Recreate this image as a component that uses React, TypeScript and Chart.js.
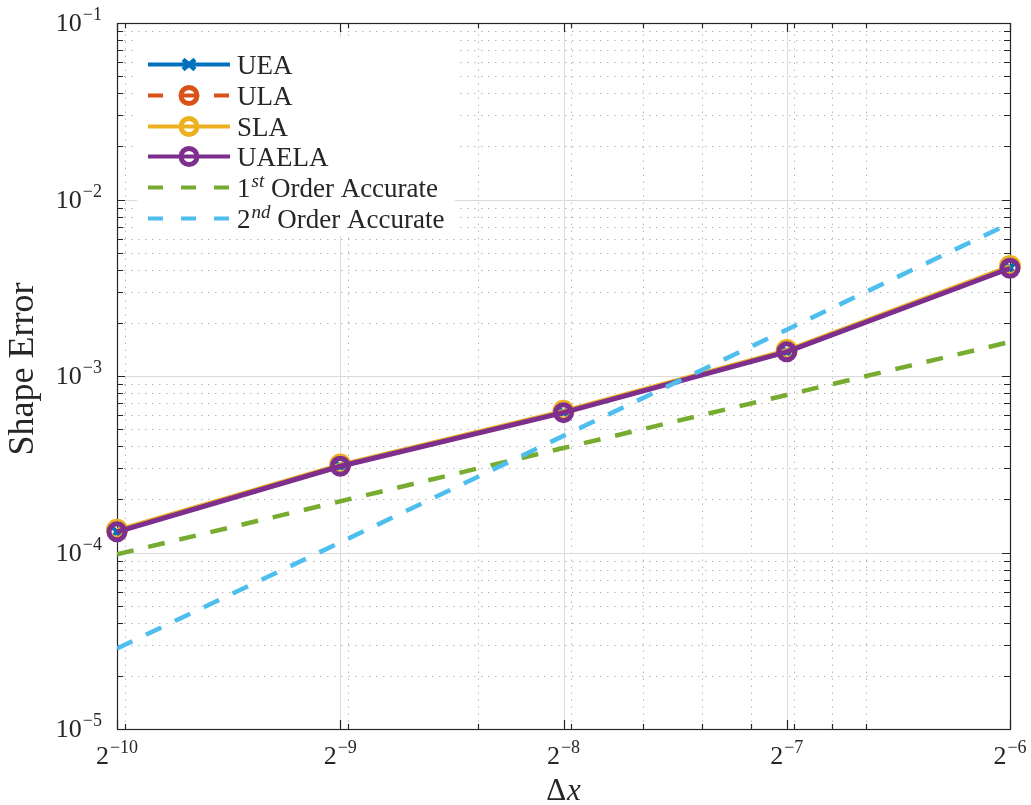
import React, { useEffect, useRef } from "react";
import { Chart, registerables } from "chart.js";

Chart.register(...registerables);

// ---- data ----
const dxValues = [0.0009765625, 0.001953125, 0.00390625, 0.0078125, 0.015625];
const ueaErr = [1.31e-4, 3.08e-4, 6.22e-4, 1.372e-3, 4.09e-3];
const ulaErr = [1.315e-4, 3.09e-4, 6.24e-4, 1.378e-3, 4.11e-3];
const slaErr = [1.345e-4, 3.15e-4, 6.36e-4, 1.405e-3, 4.2e-3];
const uaelaErr = [1.31e-4, 3.08e-4, 6.2e-4, 1.37e-3, 4.08e-3];
const firstOrderRef = [9.77e-5, 1.95e-4, 3.91e-4, 7.81e-4, 1.56e-3];
const secondOrderRef = [2.86e-5, 1.14e-4, 4.58e-4, 1.83e-3, 7.32e-3];

const xTickExps = [-10, -9, -8, -7, -6];
const yTickExps = [-5, -4, -3, -2, -1];
const xMinorTicks = [0.001, 0.002, 0.003, 0.004, 0.005, 0.006, 0.007, 0.008, 0.009, 0.01];
const yMinorMultipliers = [2, 3, 4, 5, 6, 7, 8, 9];
const yMinorDecades = [-5, -4, -3, -2];

const COLORS = {
  uea: "#0072BD",
  ula: "#D95319",
  sla: "#EDB120",
  uaela: "#7E2F8E",
  first: "#77AC30",
  second: "#4DBEEE",
};

const TEXT = "#262626";
const SERIF = '"Liberation Serif", "Times New Roman", serif';

type LegendItem = {
  label: string;
  sup?: string;
  color: string;
  dash: number[];
  marker: "none" | "circle" | "cross";
};

const legendItems: LegendItem[] = [
  { label: "UEA", color: COLORS.uea, dash: [], marker: "cross" },
  { label: "ULA", color: COLORS.ula, dash: [15, 18], marker: "circle" },
  { label: "SLA", color: COLORS.sla, dash: [], marker: "circle" },
  { label: "UAELA", color: COLORS.uaela, dash: [], marker: "circle" },
  { label: " Order Accurate", sup: "st", color: COLORS.first, dash: [15, 18], marker: "none" },
  { label: " Order Accurate", sup: "nd", color: COLORS.second, dash: [15, 18], marker: "none" },
];
const legendPrefix = ["", "", "", "", "1", "2"];

const toPts = (ys: number[]) => dxValues.map((x, i) => ({ x, y: ys[i] }));

function drawSupText(
  ctx: CanvasRenderingContext2D,
  base: string,
  sup: string,
  x: number,
  y: number,
  baseFont: string,
  supFont: string,
  raise: number,
  align: "left" | "right" | "center"
) {
  ctx.font = baseFont;
  const wb = ctx.measureText(base).width;
  ctx.font = supFont;
  const ws = ctx.measureText(sup).width;
  const total = wb + ws + 1;
  let sx = x;
  if (align === "right") sx = x - total;
  else if (align === "center") sx = x - total / 2;
  ctx.textAlign = "left";
  ctx.textBaseline = "alphabetic";
  ctx.font = baseFont;
  ctx.fillText(base, sx, y);
  ctx.font = supFont;
  ctx.fillText(sup, sx + wb + 1, y - raise);
}

const customPlugin = {
  id: "matlabStyle",
  beforeDatasetsDraw(chart: any) {
    const ctx: CanvasRenderingContext2D = chart.ctx;
    const xs = chart.scales.x;
    const ys = chart.scales.y;
    const { left, right, top, bottom } = chart.chartArea;
    ctx.save();
    ctx.lineWidth = 1;
    // minor grid (dotted)
    ctx.strokeStyle = "#b8b8b8";
    ctx.setLineDash([1.5, 5.5]);
    for (const d of yMinorDecades) {
      for (const m of yMinorMultipliers) {
        const py = Math.round(ys.getPixelForValue(m * Math.pow(10, d))) + 0.5;
        ctx.beginPath();
        ctx.moveTo(left, py);
        ctx.lineTo(right, py);
        ctx.stroke();
      }
    }
    for (const v of xMinorTicks) {
      const px = Math.round(xs.getPixelForValue(v)) + 0.5;
      ctx.beginPath();
      ctx.moveTo(px, bottom);
      ctx.lineTo(px, top);
      ctx.stroke();
    }
    // major grid
    ctx.setLineDash([]);
    ctx.strokeStyle = "#dadada";
    for (const e of yTickExps) {
      const py = Math.round(ys.getPixelForValue(Math.pow(10, e))) + 0.5;
      ctx.beginPath();
      ctx.moveTo(left, py);
      ctx.lineTo(right, py);
      ctx.stroke();
    }
    for (const e of xTickExps) {
      const px = Math.round(xs.getPixelForValue(Math.pow(2, e))) + 0.5;
      ctx.beginPath();
      ctx.moveTo(px, bottom);
      ctx.lineTo(px, top);
      ctx.stroke();
    }
    // frame
    ctx.strokeStyle = TEXT;
    ctx.lineWidth = 1.2;
    ctx.strokeRect(Math.round(left) + 0.5, Math.round(top) + 0.5, Math.round(right - left), Math.round(bottom - top));
    // ticks
    const tickX = (v: number, len: number) => {
      const px = Math.round(xs.getPixelForValue(v)) + 0.5;
      ctx.beginPath();
      ctx.moveTo(px, bottom);
      ctx.lineTo(px, bottom - len);
      ctx.moveTo(px, top);
      ctx.lineTo(px, top + len);
      ctx.stroke();
    };
    const tickY = (v: number, len: number) => {
      const py = Math.round(ys.getPixelForValue(v)) + 0.5;
      ctx.beginPath();
      ctx.moveTo(left, py);
      ctx.lineTo(left + len, py);
      ctx.moveTo(right, py);
      ctx.lineTo(right - len, py);
      ctx.stroke();
    };
    for (const v of xMinorTicks) tickX(v, 5);
    for (const e of xTickExps) tickX(Math.pow(2, e), 9);
    for (const d of yMinorDecades) for (const m of yMinorMultipliers) tickY(m * Math.pow(10, d), 6);
    for (const e of yTickExps) tickY(Math.pow(10, e), 8);

    // tick labels
    ctx.fillStyle = TEXT;
    const baseFont = `26px ${SERIF}`;
    const supFont = `18px ${SERIF}`;
    for (const e of yTickExps) {
      const py = ys.getPixelForValue(Math.pow(10, e));
      drawSupText(ctx, "10", "\u2212" + Math.abs(e), left - 15, py + 8, baseFont, supFont, 11, "right");
    }
    for (const e of xTickExps) {
      const px = xs.getPixelForValue(Math.pow(2, e));
      drawSupText(ctx, "2", "\u2212" + Math.abs(e), px, bottom + 35, baseFont, supFont, 11, "center");
    }
    // axis titles
    ctx.textBaseline = "alphabetic";
    const cx = (left + right) / 2;
    ctx.font = `31px ${SERIF}`;
    const wD = ctx.measureText("\u0394").width;
    ctx.font = `italic 31px ${SERIF}`;
    const wX = ctx.measureText("x").width;
    const sx = cx - (wD + wX + 1) / 2;
    ctx.textAlign = "left";
    ctx.font = `31px ${SERIF}`;
    ctx.fillText("\u0394", sx, 800);
    ctx.font = `italic 31px ${SERIF}`;
    ctx.fillText("x", sx + wD + 1, 800);

    ctx.save();
    ctx.translate(33, 369);
    ctx.rotate(-Math.PI / 2);
    ctx.font = `36px ${SERIF}`;
    ctx.textAlign = "center";
    ctx.fillText("Shape Error", 0, 0);
    ctx.restore();

    ctx.restore();
  },
  afterDraw(chart: any) {
    const ctx: CanvasRenderingContext2D = chart.ctx;
    ctx.save();
    // legend box
    ctx.fillStyle = "#ffffff";
    ctx.fillRect(137, 37, 318, 199);
    const rowY0 = 64;
    const rowStep = 30.8;
    const lx0 = 148;
    const lx1 = 230;
    const mx = 189;
    legendItems.forEach((it, i) => {
      const y = Math.round(rowY0 + i * rowStep) + 0.5;
      ctx.strokeStyle = it.color;
      ctx.lineWidth = 4;
      ctx.lineCap = "butt";
      ctx.setLineDash(it.dash);
      ctx.beginPath();
      ctx.moveTo(lx0, y);
      ctx.lineTo(lx1, y);
      ctx.stroke();
      ctx.setLineDash([]);
      if (it.marker === "circle") {
        ctx.lineWidth = 5;
        ctx.beginPath();
        ctx.arc(mx, y, 8, 0, Math.PI * 2);
        ctx.stroke();
        ctx.lineWidth = 2.5;
        ctx.beginPath();
        ctx.moveTo(mx - 5, y);
        ctx.lineTo(mx + 5, y);
        ctx.stroke();
      } else if (it.marker === "cross") {
        ctx.lineWidth = 4.5;
        ctx.beginPath();
        ctx.moveTo(mx - 6, y - 5);
        ctx.lineTo(mx + 6, y + 5);
        ctx.moveTo(mx - 6, y + 5);
        ctx.lineTo(mx + 6, y - 5);
        ctx.stroke();
      }
      ctx.fillStyle = TEXT;
      ctx.textAlign = "left";
      ctx.textBaseline = "alphabetic";
      const baseline = y + 9;
      if (it.sup) {
        ctx.font = `27px ${SERIF}`;
        const pre = legendPrefix[i];
        ctx.fillText(pre, 237, baseline);
        const wp = ctx.measureText(pre).width;
        ctx.font = `italic 19px ${SERIF}`;
        ctx.fillText(it.sup, 237 + wp + 1, baseline - 10);
        const wsup = ctx.measureText(it.sup).width;
        ctx.font = `27px ${SERIF}`;
        ctx.fillText(it.label, 237 + wp + 1 + wsup, baseline);
      } else {
        ctx.font = `27px ${SERIF}`;
        ctx.fillText(it.label, 237, baseline);
      }
    });
    ctx.restore();
  },
};

export default function App() {
  const canvasRef = useRef<HTMLCanvasElement | null>(null);

  useEffect(() => {
    const canvas = canvasRef.current;
    if (!canvas) return;
    const seriesCommon = {
      tension: 0,
      pointBackgroundColor: "rgba(0,0,0,0)",
      clip: false as any,
    };
    const chart = new Chart(canvas, {
      type: "line",
      data: {
        datasets: [
          {
            label: "2nd Order Accurate",
            data: toPts(secondOrderRef),
            borderColor: COLORS.second,
            borderWidth: 4.5,
            borderDash: [17, 15],
            pointRadius: 0,
            tension: 0,
          },
          {
            label: "1st Order Accurate",
            data: toPts(firstOrderRef),
            borderColor: COLORS.first,
            borderWidth: 4.5,
            borderDash: [17, 15],
            pointRadius: 0,
            tension: 0,
          },
          {
            label: "UAELA",
            data: toPts(uaelaErr),
            borderColor: COLORS.uaela,
            borderWidth: 5,
            pointStyle: "circle",
            pointRadius: 8,
            pointBorderWidth: 5,
            pointBorderColor: COLORS.uaela,
            ...seriesCommon,
          },
          {
            label: "SLA",
            data: toPts(slaErr),
            borderColor: COLORS.sla,
            borderWidth: 3.5,
            pointStyle: "circle",
            pointRadius: 8.5,
            pointBorderWidth: 5,
            pointBorderColor: COLORS.sla,
            ...seriesCommon,
          },
          {
            label: "ULA",
            data: toPts(ulaErr),
            borderColor: COLORS.ula,
            borderWidth: 4,
            borderDash: [16, 15],
            pointStyle: "circle",
            pointRadius: 8,
            pointBorderWidth: 4,
            pointBorderColor: COLORS.ula,
            ...seriesCommon,
          },
          {
            label: "UEA",
            data: toPts(ueaErr),
            borderColor: COLORS.uea,
            borderWidth: 4,
            pointStyle: "crossRot",
            pointRadius: 6,
            pointBorderWidth: 4,
            pointBorderColor: COLORS.uea,
            ...seriesCommon,
          },
        ],
      },
      options: {
        animation: false,
        responsive: false,
        devicePixelRatio: 1,
        layout: { padding: { left: 117, right: 21, top: 23, bottom: 76 } },
        scales: {
          x: { type: "logarithmic", min: dxValues[0], max: dxValues[dxValues.length - 1], display: false },
          y: { type: "logarithmic", min: 1e-5, max: 1e-1, display: false },
        },
        plugins: {
          legend: { display: false },
          tooltip: { enabled: false },
        },
        events: [],
      },
      plugins: [customPlugin],
    });
    return () => chart.destroy();
  }, []);

  return (
    <div style={{ position: "absolute", left: 0, top: 0, width: 1031, height: 805, background: "#ffffff" }}>
      <canvas ref={canvasRef} width={1031} height={805} style={{ width: 1031, height: 805, display: "block" }} />
    </div>
  );
}
